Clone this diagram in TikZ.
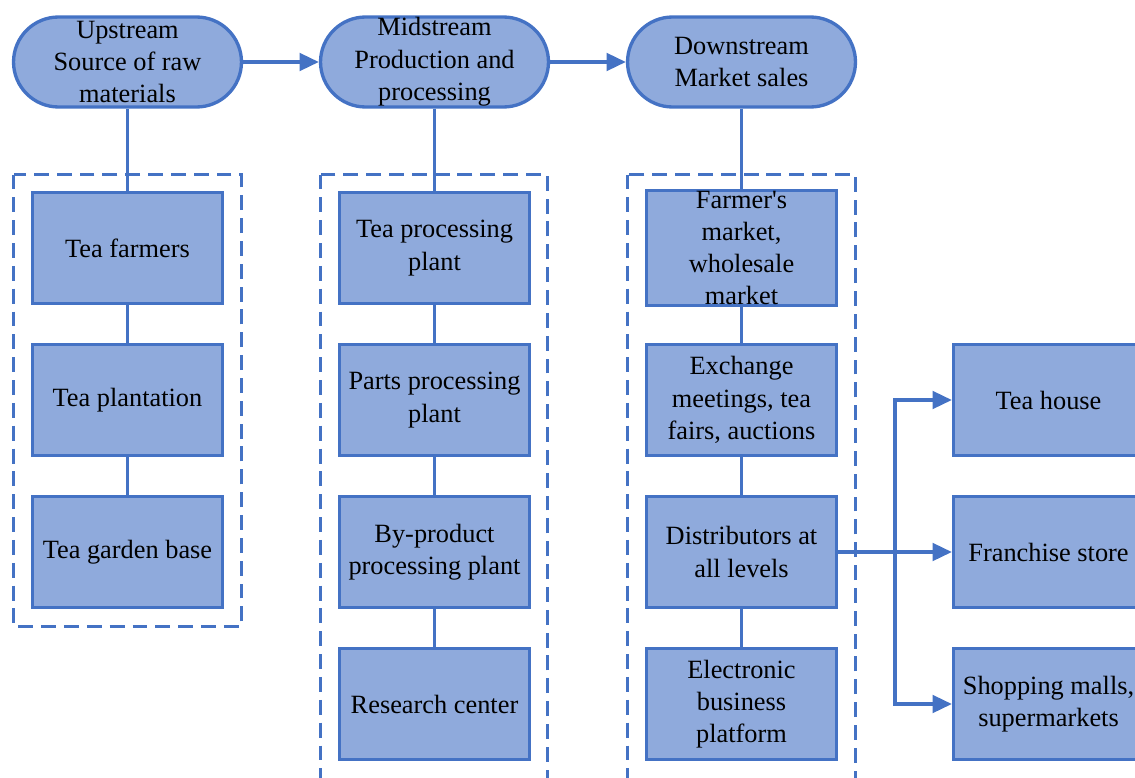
\documentclass[tikz,border=0pt]{standalone}
\usepackage{fontspec}
\setmainfont{Liberation Serif}
\usetikzlibrary{arrows.meta}
\definecolor{chainline}{HTML}{4472C4}
\definecolor{chainfill}{HTML}{8FAADC}
\begin{document}
\begin{tikzpicture}[x=0.02cm,y=-0.02cm,
  font=\fontsize{15}{18.4}\selectfont,
  stagebox/.style={draw=chainline, fill=chainfill, line width=1.9pt, rounded corners=0.9cm, minimum width=4.56cm, minimum height=1.8cm, align=center, inner sep=0pt},
  unitbox/.style={draw=chainline, fill=chainfill, line width=1.9pt, minimum width=3.8cm, minimum height=2.22cm, align=center, inner sep=0pt},
  groupbox/.style={draw=chainline, line width=1.9pt, dash pattern=on 8.5pt off 4.5pt},
  chainlink/.style={draw=chainline, line width=1.9pt},
  flowarrow/.style={chainlink, -{Triangle[length=11pt,width=10pt]}}]
\useasboundingbox (0,0) rectangle (1135,777);
% dashed groups
\draw[groupbox] (13.5,174.5) rectangle (241.5,626.5);
\draw[groupbox] (320.5,174.5) rectangle (547.5,800);
\draw[groupbox] (627.5,174.5) rectangle (855.5,800);
% stages
\node[stagebox] (upstream) at (127.5,62) {Upstream\\Source of raw\\materials};
\node[stagebox] (midstream) at (434.5,62) {Midstream\\Production and\\processing};
\node[stagebox] (downstream) at (741.5,62) {Downstream\\Market sales};
% upstream
\node[unitbox] (farmers) at (127.5,248) {Tea farmers};
\node[unitbox] (plantation) at (127.5,400) {Tea plantation};
\node[unitbox] (gardenbase) at (127.5,552) {Tea garden base};
% midstream
\node[unitbox] (processing) at (434.5,248) {Tea processing\\plant};
\node[unitbox] (parts) at (434.5,400) {Parts processing\\plant};
\node[unitbox] (byproduct) at (434.5,552) {By-product\\processing plant};
\node[unitbox] (research) at (434.5,704) {Research center};
% downstream
\node[unitbox] (farmersmarket) at (741.5,248) {Farmer\textquotesingle s\\market,\\wholesale\\market};
\node[unitbox] (exchange) at (741.5,400) {Exchange\\meetings, tea\\fairs, auctions};
\node[unitbox] (distributors) at (741.5,552) {Distributors at\\all levels};
\node[unitbox] (ebusiness) at (741.5,704) {Electronic\\business\\platform};
% retail
\node[unitbox] (teahouse) at (1048.5,400) {Tea house};
\node[unitbox] (franchise) at (1048.5,552) {Franchise store};
\node[unitbox] (malls) at (1048.5,704) {Shopping malls,\\supermarkets};
% connectors
\draw[flowarrow] (upstream) -- (midstream);
\draw[flowarrow] (midstream) -- (downstream);
\draw[chainlink] (upstream) -- (farmers);
\draw[chainlink] (farmers) -- (plantation);
\draw[chainlink] (plantation) -- (gardenbase);
\draw[chainlink] (midstream) -- (processing);
\draw[chainlink] (processing) -- (parts);
\draw[chainlink] (parts) -- (byproduct);
\draw[chainlink] (byproduct) -- (research);
\draw[chainlink] (downstream) -- (farmersmarket);
\draw[chainlink] (farmersmarket) -- (exchange);
\draw[chainlink] (exchange) -- (distributors);
\draw[chainlink] (distributors) -- (ebusiness);
\coordinate (split) at (895,552);
\draw[flowarrow] (distributors) -- (franchise);
\draw[flowarrow] (split) |- (teahouse);
\draw[flowarrow] (split) |- (malls);
\end{tikzpicture}
\end{document}
